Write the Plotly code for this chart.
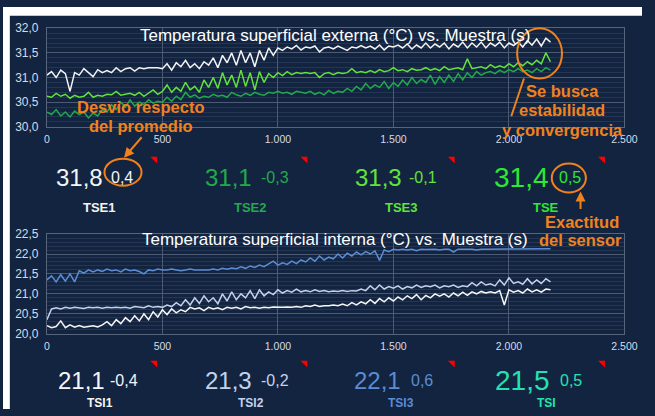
import plotly.graph_objects as go

# ---------------- data ----------------
sample = list(range(0, 2181, 20))

# external surface temperature (°C)
tse1 = [31.05, 31.12, 31.0, 31.15, 31.08, 30.72, 31.1, 31.05, 31.18, 31.1, 31.02, 31.16, 31.1,
        31.14, 31.1, 31.2, 31.12, 31.18, 31.2, 31.13, 31.2, 31.18, 31.2, 31.2, 31.2, 31.18,
        31.28, 31.15, 31.3, 31.22, 31.35, 31.2, 31.28, 31.18, 31.32, 31.25, 31.4, 31.2, 31.45,
        31.3, 31.5, 31.25, 31.55, 31.3, 31.5, 31.22, 31.55, 31.35, 31.6, 31.45, 31.6, 31.55,
        31.62, 31.58, 31.65, 31.56,
        31.62, 31.6, 31.64, 31.52, 31.6, 31.62, 31.58, 31.64, 31.6, 31.55,
        31.62, 31.6, 31.65, 31.6, 31.64, 31.58, 31.66, 31.56, 31.64, 31.62,
        31.66, 31.6, 31.68, 31.58, 31.66, 31.6, 31.7, 31.6, 31.68, 31.62,
        31.7, 31.58, 31.68, 31.62, 31.72, 31.6, 31.7, 31.62, 31.72, 31.6,
        31.7, 31.64, 31.72, 31.6, 31.7, 31.65, 31.72, 31.62, 31.75, 31.66,
        31.78, 31.64, 31.8, 31.72]
tse2 = [30.3, 30.25, 30.35, 30.22, 30.3, 30.2, 30.32, 30.25, 30.3, 30.18, 30.28, 30.22, 30.35,
        30.3, 30.45, 30.35, 30.5, 30.4, 30.55, 30.42, 30.5, 30.45, 30.55, 30.48, 30.52, 30.5,
        30.6, 30.52, 30.62, 30.55, 30.7, 30.6, 30.65, 30.58, 30.62, 30.6, 30.66, 30.62, 30.64,
        30.6, 30.7, 30.65, 30.62, 30.68, 30.64, 30.7, 30.66, 30.64, 30.7, 30.68, 30.72, 30.68,
        30.7, 30.66, 30.72, 30.7,
        30.68, 30.72, 30.66, 30.7, 30.65, 30.74, 30.68, 30.72, 30.7, 30.78,
        30.72, 30.82, 30.75, 30.88, 30.78, 30.85, 30.8, 30.92, 30.78, 30.9,
        30.82, 30.95, 30.85, 31.0, 30.88, 30.96, 30.9, 31.05, 30.86, 31.02,
        30.9, 31.05, 30.92, 31.08, 30.95, 31.1, 31.0, 31.12, 31.05, 31.1,
        31.12, 31.08, 31.15, 31.1, 31.16, 31.12, 31.18, 31.12, 31.15, 31.1,
        31.18, 31.12, 31.2, 31.15]
tse3 = [30.62, 30.6, 30.68, 30.62, 30.66, 30.58, 30.64, 30.6, 30.62, 30.7, 30.6, 30.64, 30.62,
        30.66, 30.65, 30.72, 30.64, 30.66, 30.68, 30.64, 30.7, 30.62, 30.68, 30.75, 30.66, 30.72,
        30.85, 30.7, 30.8, 30.72, 30.9, 30.75, 30.82, 30.7, 30.95, 30.8, 31.0, 30.78, 31.1,
        30.85, 31.05, 30.8, 31.15, 30.82, 31.1, 30.75, 31.12, 30.9, 31.08, 31.0, 31.1, 31.04,
        31.12, 31.06, 31.1, 31.08,
        31.1, 31.08, 31.1, 31.0, 31.08, 31.1, 31.06, 31.1, 31.08, 31.1,
        31.18, 31.1, 31.12, 31.1, 31.14, 31.1, 31.16, 31.12, 31.14, 31.2,
        31.14, 31.16, 31.12, 31.18, 31.15, 31.16, 31.2, 31.15, 31.18, 31.14,
        31.22, 31.16, 31.18, 31.2, 31.16, 31.38, 31.18, 31.2, 31.22, 31.18,
        31.26, 31.2, 31.24, 31.2, 31.28, 31.22, 31.3, 31.24, 31.32, 31.26,
        31.35, 31.28, 31.5, 31.32]

# internal surface temperature (°C)
tsi1 = [20.2, 20.15, 20.18, 20.32, 20.15, 20.22, 20.16, 20.2, 20.16, 20.18, 20.2, 20.17, 20.22,
        20.3, 20.2, 20.35, 20.25, 20.4, 20.3, 20.45, 20.32, 20.5, 20.35, 20.55, 20.42, 20.6,
        20.48, 20.62, 20.52, 20.6, 20.55, 20.66, 20.62, 20.65, 20.58, 20.66, 20.62, 20.65, 20.6,
        20.66, 20.64, 20.66, 20.62, 20.68, 20.65, 20.66, 20.64, 20.66, 20.65, 20.67, 20.66,
        20.66, 20.67, 20.66, 20.68, 20.66,
        20.7, 20.68, 20.72, 20.68, 20.7, 20.7, 20.72, 20.7, 20.74, 20.7,
        20.78, 20.72, 20.8, 20.75, 20.85, 20.76, 20.88, 20.8, 20.9, 20.82,
        20.92, 20.85, 20.95, 20.88, 20.98, 20.85, 20.96, 20.9, 21.0, 20.94,
        21.0, 20.92, 21.02, 20.95, 21.04, 20.96, 21.05, 21.0, 21.06, 21.02,
        21.05, 21.02, 21.08, 20.72, 21.1, 21.04, 21.08, 21.02, 21.12, 21.05,
        21.1, 21.04, 21.12, 21.1]
tsi2 = [20.35, 20.62, 20.65, 20.62, 20.66, 20.64, 20.66, 20.65, 20.63, 20.66, 20.65, 20.66, 20.64,
        20.66, 20.65, 20.66, 20.65, 20.66, 20.64, 20.68, 20.66, 20.65, 20.7, 20.66, 20.68, 20.66,
        20.72, 20.68, 20.78, 20.7, 20.85, 20.72, 20.9, 20.76, 20.95, 20.8, 20.9, 20.75, 21.0,
        20.82, 21.05, 20.85, 21.0, 20.9, 21.08, 20.88, 21.1, 20.95, 21.05, 20.98, 21.1, 21.02,
        21.08, 21.04, 21.12, 21.05,
        21.08, 21.05, 21.1, 21.06, 21.08, 21.05, 21.07, 21.06, 21.08, 21.06,
        21.08, 21.07, 21.12, 21.08, 21.2, 21.1, 21.22, 21.12, 21.18, 21.14,
        21.2, 21.12, 21.18, 21.15, 21.22, 21.16, 21.2, 21.18, 21.22, 21.15,
        21.2, 21.18, 21.22, 21.16, 21.2, 21.18, 21.28, 21.2, 21.3, 21.22,
        21.25, 21.2, 21.35, 21.22, 21.4, 21.26, 21.3, 21.24, 21.38, 21.25,
        21.35, 21.26, 21.38, 21.3]
tsi3 = [21.35, 21.45, 21.3, 21.48, 21.32, 21.5, 21.3, 21.58, 21.52, 21.6, 21.55, 21.6, 21.56,
        21.62, 21.58, 21.6, 21.55, 21.62, 21.58, 21.6, 21.56, 21.5, 21.6, 21.58, 21.62, 21.6,
        21.6, 21.62, 21.6, 21.58, 21.6, 21.62, 21.6, 21.6, 21.61, 21.6, 21.62, 21.6, 21.64,
        21.62, 21.65, 21.63, 21.68, 21.64, 21.7, 21.66, 21.72, 21.68, 21.75, 21.82, 21.72,
        21.78, 21.74, 21.82, 21.76, 21.85,
        21.8, 21.9, 21.82, 21.95, 21.85, 21.92, 21.88, 22.0, 21.9, 22.02,
        21.95, 22.05, 21.98, 22.06, 22.0, 22.08, 21.84, 22.1, 22.06, 22.12,
        22.1, 22.12, 22.1, 22.12, 22.08, 22.12, 22.11, 22.12, 22.12, 22.1,
        22.12, 22.12, 22.05, 22.12, 22.12, 22.11, 22.12, 22.1, 22.12, 22.12,
        22.12, 22.13, 22.12, 22.13, 22.13, 22.12, 22.13, 22.13, 22.13, 22.13,
        22.13, 22.13, 22.13, 22.13]

# readout panels
ext_names = ["TSE1", "TSE2", "TSE3", "TSE"]
ext_values = [31.8, 31.1, 31.3, 31.4]
ext_deltas = [0.4, -0.3, -0.1, 0.5]
int_names = ["TSI1", "TSI2", "TSI3", "TSI"]
int_values = [21.1, 21.3, 22.1, 21.5]
int_deltas = [-0.4, -0.2, 0.6, 0.5]

x_ticks = [0, 500, 1000, 1500, 2000, 2500]
x_tick_labels = ["0", "500", "1.000", "1.500", "2.000", "2.500"]
ext_y_ticks = [30.0, 30.5, 31.0, 31.5, 32.0]
ext_y_labels = ["30,0", "30,5", "31,0", "31,5", "32,0"]
int_y_ticks = [20.0, 20.5, 21.0, 21.5, 22.0, 22.5]
int_y_labels = ["20,0", "20,5", "21,0", "21,5", "22,0", "22,5"]

# ---------------- styling ----------------
W, H = 655, 416
BG = "#132440"
FONT = "Liberation Sans, Arial, sans-serif"
ORANGE = "#f0821e"
TICK_COLOR = "#d6dce6"
GRID = "#4c5b73"
MINOR_GRID = "#243654"
FRAME = "#56657c"

ext_colors = ["#f4f4f4", "#22a94b", "#62e23a", "#30e636"]
int_colors = ["#f6f6f6", "#c3d2ec", "#5b8cd4", "#22e3b0"]


def px(x):
    return x / W


def py(y):
    return 1 - y / H


def fmt(v):
    return f"{v:.1f}".replace(".", ",")


fig = go.Figure()

fig.add_trace(go.Scatter(x=sample, y=tse3, mode="lines", line=dict(color=ext_colors[2], width=1.5),
                         xaxis="x", yaxis="y", name="TSE3"))
fig.add_trace(go.Scatter(x=sample, y=tse2, mode="lines", line=dict(color=ext_colors[1], width=1.5),
                         xaxis="x", yaxis="y", name="TSE2"))
fig.add_trace(go.Scatter(x=sample, y=tse1, mode="lines", line=dict(color=ext_colors[0], width=1.5),
                         xaxis="x", yaxis="y", name="TSE1"))

fig.add_trace(go.Scatter(x=sample, y=tsi3, mode="lines", line=dict(color=int_colors[2], width=1.5),
                         xaxis="x2", yaxis="y2", name="TSI3"))
fig.add_trace(go.Scatter(x=sample, y=tsi2, mode="lines", line=dict(color=int_colors[1], width=1.5),
                         xaxis="x2", yaxis="y2", name="TSI2"))
fig.add_trace(go.Scatter(x=sample, y=tsi1, mode="lines", line=dict(color=int_colors[0], width=1.5),
                         xaxis="x2", yaxis="y2", name="TSI1"))


def xaxis_cfg(dom_y_anchor):
    return dict(domain=[px(45), px(637)], range=[0, 2500], anchor=dom_y_anchor,
                tickvals=x_ticks, ticktext=x_tick_labels, ticks="",
                tickfont=dict(size=10.5, color=TICK_COLOR, family=FONT),
                ticklabelstandoff=3, fixedrange=True,
                showgrid=True, gridcolor=GRID, gridwidth=1, zeroline=False,
                showline=True, mirror=True, linecolor=FRAME, linewidth=1)


def yaxis_cfg(top, bottom, rng, vals, labels, anchor):
    return dict(domain=[py(bottom), py(top)], range=rng, anchor=anchor,
                tickvals=vals, ticktext=labels, ticks="",
                tickfont=dict(size=12, color=TICK_COLOR, family=FONT),
                ticklabelstandoff=5, fixedrange=True,
                showgrid=True, gridcolor=GRID, gridwidth=1, zeroline=False,
                minor=dict(dtick=0.1, tick0=rng[0], showgrid=True, gridcolor=MINOR_GRID, gridwidth=1),
                showline=True, mirror=True, linecolor=FRAME, linewidth=1)


fig.update_layout(
    width=W, height=H, margin=dict(l=0, r=0, t=0, b=0),
    paper_bgcolor=BG, plot_bgcolor="rgba(0,0,0,0)",
    showlegend=False,
    font=dict(family=FONT),
    xaxis=xaxis_cfg("y"),
    yaxis=yaxis_cfg(22, 124, [30, 32], ext_y_ticks, ext_y_labels, "x"),
    xaxis2=xaxis_cfg("y2"),
    yaxis2=yaxis_cfg(235, 338, [20, 22.5], int_y_ticks, int_y_labels, "x2"),
)

ann = []


def text(x, y, s, size, color, bold=False, xanchor="center"):
    ann.append(dict(x=px(x), y=py(y), xref="paper", yref="paper", text=f"<b>{s}</b>" if bold else s,
                    showarrow=False, xanchor=xanchor, yanchor="middle",
                    font=dict(size=size, color=color, family=FONT)))


# chart titles
text(340, 30, "Temperatura superficial externa (°C) vs. Muestra (s)", 17, "#ffffff")
text(340, 241, "Temperatura superficial interna (°C) vs. Muestra (s)", 17, "#ffffff")

# readout panels
num_x = [78, 231, 385, 531]
delta_x = [122, 279, 431, 581]
label_x = [99, 254, 408, 557]
tri_x = [158, 312, 463, 617]
num_x2 = [80, 231, 384, 532]
delta_x2 = [124, 279, 429, 582]

shapes = []
for i in range(4):
    big = 28 if i == 3 else 24
    text(num_x[i], 176, fmt(ext_values[i]), big, ext_colors[i])
    text(delta_x[i], 176, fmt(ext_deltas[i]), 16, ext_colors[i])
    text(label_x[i], 207, ext_names[i], 13, ext_colors[i], bold=True)
    text(num_x2[i], 386, fmt(int_values[i]), big, int_colors[i])
    text(delta_x2[i], 386, fmt(int_deltas[i]), 16, int_colors[i])
    text(label_x[i], 410, int_names[i], 12, int_colors[i], bold=True)
    for ty in (155, 366):
        x1 = tri_x[i]
        shapes.append(dict(type="path", xref="paper", yref="paper",
                           path=f"M {px(x1 - 7)},{py(ty)} L {px(x1)},{py(ty)} L {px(x1)},{py(ty + 7)} Z",
                           fillcolor="#ff0000", line=dict(width=0)))

# callouts
text(141, 103, "Desvio respecto", 16.5, ORANGE, bold=True)
text(141, 123, "del promedio", 16.5, ORANGE, bold=True)
text(573, 87, "Se busca", 16.5, ORANGE, bold=True)
text(573, 107, "estabilidad", 16.5, ORANGE, bold=True)
text(573, 127, "y convergencia", 16.5, ORANGE, bold=True)
text(593, 222, "Exactitud", 16.5, ORANGE, bold=True)
text(592, 241, "del sensor", 16.5, ORANGE, bold=True)

ann.append(dict(x=px(124), y=py(156), xref="paper", yref="paper", ax=19, ay=-22,
                showarrow=True, arrowhead=2, arrowsize=1, arrowwidth=2, arrowcolor=ORANGE, text=""))
ann.append(dict(x=px(592), y=py(191), xref="paper", yref="paper", ax=0, ay=19,
                showarrow=True, arrowhead=2, arrowsize=1, arrowwidth=2, arrowcolor=ORANGE, text=""))

for cx, cy, rx, ry in [(123, 171, 19, 14), (580, 177, 17.5, 15), (550, 48, 23, 26)]:
    shapes.append(dict(type="circle", xref="paper", yref="paper",
                       x0=px(cx - rx), x1=px(cx + rx), y0=py(cy + ry), y1=py(cy - ry),
                       line=dict(color=ORANGE, width=2)))
shapes.append(dict(type="line", xref="paper", yref="paper", x0=px(534), y0=py(74), x1=px(521), y1=py(113),
                   line=dict(color=ORANGE, width=2)))

# white page margin along the top and left edges
shapes.append(dict(type="rect", xref="paper", yref="paper", x0=0, x1=1, y0=py(9), y1=1,
                   fillcolor="#ffffff", line=dict(width=0), layer="above"))
shapes.append(dict(type="rect", xref="paper", yref="paper", x0=0, x1=px(7), y0=0, y1=1,
                   fillcolor="#ffffff", line=dict(width=0), layer="above"))

fig.update_layout(annotations=ann, shapes=shapes)

fig.write_html("out.html", config={"staticPlot": True})
